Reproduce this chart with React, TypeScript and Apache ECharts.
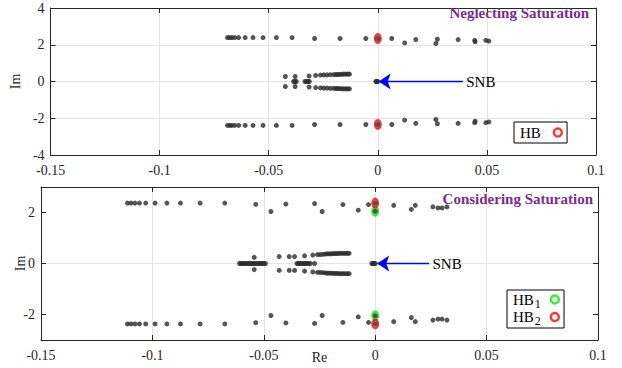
import React, { useEffect, useRef } from "react";
import * as echarts from "echarts";

// ---------- Neglecting saturation (top panel) ----------
const negUpRe = [-0.0689, -0.0679, -0.0669, -0.0656, -0.0638, -0.0608, -0.0572, -0.0526, -0.0465, -0.0393, -0.029, -0.0173, -0.0055, 0.0, 0.0064, 0.0123, 0.0174, 0.0266, 0.0273, 0.0368, 0.0444, 0.0446, 0.0495, 0.0509];
const negUpIm = [2.39, 2.39, 2.39, 2.39, 2.39, 2.39, 2.39, 2.39, 2.39, 2.39, 2.34, 2.34, 2.34, 2.34, 2.34, 2.1, 2.28, 2.07, 2.3, 2.28, 2.24, 2.16, 2.24, 2.2];
const negLoRe = [-0.0689, -0.0679, -0.0669, -0.0656, -0.0638, -0.0608, -0.0572, -0.0526, -0.0465, -0.0393, -0.029, -0.0173, -0.0055, 0.0, 0.0064, 0.0123, 0.0174, 0.0266, 0.0273, 0.0368, 0.0444, 0.0446, 0.0495, 0.0509];
const negLoIm = [-2.39, -2.39, -2.39, -2.39, -2.39, -2.39, -2.39, -2.39, -2.39, -2.39, -2.34, -2.34, -2.34, -2.34, -2.34, -2.1, -2.28, -2.07, -2.3, -2.28, -2.24, -2.16, -2.24, -2.2];
const negRealRe = [-0.0386, -0.038, -0.0374, -0.0334, -0.0327, -0.032, -0.0314, -0.0009, -0.0005, -0.0001];
const negRealIm = [0, 0, 0, 0, 0, 0, 0, 0, 0, 0];
const negCxRe = [-0.0424, -0.0379, -0.0315, -0.0285, -0.0263, -0.0248, -0.0233, -0.0218, -0.0203, -0.0192, -0.0183, -0.0174, -0.0165, -0.0156, -0.0147, -0.0138, -0.013];
const negCxUpIm = [0.27, 0.27, 0.3, 0.33, 0.35, 0.36, 0.36, 0.37, 0.37, 0.38, 0.38, 0.39, 0.39, 0.4, 0.4, 0.4, 0.4];
const negCxLoIm = [-0.27, -0.27, -0.3, -0.33, -0.35, -0.36, -0.36, -0.37, -0.37, -0.38, -0.38, -0.39, -0.39, -0.4, -0.4, -0.4, -0.4];
const hbRe = [0.0, 0.0];
const hbIm = [2.34, -2.34];

// ---------- Considering saturation (bottom panel) ----------
const satUpRe = [-0.1112, -0.1096, -0.1078, -0.1058, -0.103, -0.0988, -0.0935, -0.0874, -0.0786, -0.0675, -0.0536, -0.0468, -0.0401, -0.0272, -0.0238, -0.0145, -0.0076, -0.003, 0.0, 0.0, 0.0083, 0.0162, 0.018, 0.0259, 0.0282, 0.03, 0.0322];
const satUpIm = [2.37, 2.37, 2.37, 2.37, 2.37, 2.37, 2.37, 2.37, 2.37, 2.37, 2.32, 2.04, 2.33, 2.35, 2.04, 2.31, 2.09, 2.31, 2.37, 2.05, 2.28, 2.12, 2.28, 2.22, 2.18, 2.18, 2.22];
const satLoRe = [-0.1112, -0.1096, -0.1078, -0.1058, -0.103, -0.0988, -0.0935, -0.0874, -0.0786, -0.0675, -0.0536, -0.0468, -0.0401, -0.0272, -0.0238, -0.0145, -0.0076, -0.003, 0.0, 0.0, 0.0083, 0.0162, 0.018, 0.0259, 0.0282, 0.03, 0.0322];
const satLoIm = [-2.37, -2.37, -2.37, -2.37, -2.37, -2.37, -2.37, -2.37, -2.37, -2.37, -2.32, -2.04, -2.33, -2.35, -2.04, -2.31, -2.09, -2.31, -2.37, -2.05, -2.28, -2.12, -2.28, -2.22, -2.18, -2.18, -2.22];
const satRealRe = [-0.0609, -0.0602, -0.0595, -0.0588, -0.058, -0.0572, -0.0565, -0.0557, -0.055, -0.0543, -0.0536, -0.0528, -0.0521, -0.0514, -0.0507, -0.05, -0.0493, -0.0351, -0.0344, -0.0337, -0.033, -0.0322, -0.0315, -0.0308, -0.03, -0.0291, -0.0272, -0.0015, -0.001, -0.0005, 0.0];
const satRealIm = [0, 0, 0, 0, 0, 0, 0, 0, 0, 0, 0, 0, 0, 0, 0, 0, 0, 0, 0, 0, 0, 0, 0, 0, 0, 0, 0, 0, 0, 0, 0];
const satCxRe = [-0.0543, -0.0431, -0.0386, -0.0362, -0.0317, -0.028, -0.0259, -0.0247, -0.0235, -0.0224, -0.0215, -0.0206, -0.0197, -0.0188, -0.0179, -0.017, -0.0161, -0.0152, -0.0143, -0.0134, -0.0125, -0.0117];
const satCxUpIm = [0.24, 0.27, 0.27, 0.27, 0.3, 0.33, 0.35, 0.35, 0.36, 0.37, 0.38, 0.38, 0.38, 0.39, 0.39, 0.39, 0.4, 0.4, 0.4, 0.4, 0.4, 0.4];
const satCxLoIm = [-0.24, -0.27, -0.27, -0.27, -0.3, -0.33, -0.35, -0.35, -0.36, -0.37, -0.38, -0.38, -0.38, -0.39, -0.39, -0.39, -0.4, -0.4, -0.4, -0.4, -0.4, -0.4];
const hb1Re = [0.0, 0.0];
const hb1Im = [2.05, -2.05];
const hb2Re = [0.0, 0.0];
const hb2Im = [2.37, -2.37];

// ---------- annotations ----------
const snbTop = { from: 0.039, to: 0.0004, label: 0.0403 };
const snbBot = { from: 0.0242, to: 0.0009, label: 0.0255 };

const xTicks = { min: -0.15, max: 0.1, interval: 0.05 };
const yTopTicks = { min: -4, max: 4, interval: 2 };
const yBotTicks = { min: -3, max: 3, interval: 1, labels: [-2, 0, 2] };

const FONT = "'Liberation Serif', 'Times New Roman', serif";
const AX = "#262626";
const GRIDC = "#e4e4e4";
const DOT = "#2a2a2a";

const zip = (re: number[], im: number[]) => re.map((r, i) => [r, im[i]]);

function App() {
  const ref = useRef<HTMLDivElement>(null);
  useEffect(() => {
    if (!ref.current) return;
    const chart = echarts.init(ref.current, null, { renderer: "svg" });

    const labelStyle = { fontFamily: FONT, fontSize: 14, color: AX };
    const axLine = { show: true, onZero: false, lineStyle: { color: AX, width: 1 } };
    const mainX = (gi: number, extra: any = {}) => ({
      gridIndex: gi,
      type: "value",
      ...xTicks,
      position: "bottom",
      axisLine: axLine,
      axisTick: { show: true, inside: true, length: 5, lineStyle: { color: AX } },
      axisLabel: { margin: 8, ...labelStyle },
      splitLine: { show: true, showMinLine: false, showMaxLine: false, lineStyle: { color: GRIDC, width: 1 } },
      ...extra,
    });
    const topX = (gi: number) => ({
      gridIndex: gi,
      type: "value",
      ...xTicks,
      position: "top",
      axisLine: axLine,
      axisTick: { show: true, inside: true, length: 5, lineStyle: { color: AX } },
      axisLabel: { show: false },
      splitLine: { show: false },
    });

    const dots = (xi: number, yi: number, data: number[][]) => ({
      type: "scatter",
      xAxisIndex: xi,
      yAxisIndex: yi,
      data,
      symbol: "circle",
      symbolSize: 5,
      itemStyle: { color: DOT },
      z: 4,
      silent: true,
    });
    const ring = (name: string, xi: number, yi: number, data: number[][], color: string) => ({
      name,
      type: "scatter",
      xAxisIndex: xi,
      yAxisIndex: yi,
      data,
      symbol: "circle",
      symbolSize: [6, 8],
      itemStyle: { color: "rgba(0,0,0,0)", borderColor: color, borderWidth: 2.4 },
      z: 3,
      silent: true,
    });
    const snb = (xi: number, yi: number, s: { from: number; to: number; label: number }) => ({
      type: "line",
      xAxisIndex: xi,
      yAxisIndex: yi,
      data: [[s.label, 0]],
      showSymbol: true,
      symbol: "circle",
      symbolSize: 1,
      lineStyle: { width: 0 },
      itemStyle: { color: "rgba(0,0,0,0)" },
      label: { show: true, formatter: "SNB", position: "right", distance: 0, fontFamily: FONT, fontSize: 15, color: "#000" },
      z: 10,
      silent: true,
      markLine: {
        silent: true,
        symbol: ["none", "arrow"],
        symbolSize: 12,
        lineStyle: { color: "#0000ff", width: 1.3, type: "solid" },
        itemStyle: { color: "#0000ff" },
        label: { show: false },
        emphasis: { disabled: true },
        data: [[{ coord: [s.from, 0] }, { coord: [s.to, 0] }]],
      },
    });

    const ringIcon = (c: string) => ({ color: "rgba(0,0,0,0)", borderColor: c, borderWidth: 2.4 });

    const option: any = {
      animation: false,
      backgroundColor: "#ffffff",
      title: [
        { text: "Neglecting Saturation", right: 33, top: 5, padding: 0, textStyle: { fontFamily: FONT, fontWeight: "bold", fontSize: 15, color: "#7b2d8e" } },
        { text: "Considering Saturation", right: 29, top: 191, padding: 0, textStyle: { fontFamily: FONT, fontWeight: "bold", fontSize: 15, color: "#7b2d8e" } },
      ],
      legend: [
        {
          data: [{ name: "HB", icon: "circle", itemStyle: ringIcon("#ff0000") }],
          left: 514,
          top: 122,
          orient: "vertical",
          align: "right",
          padding: [3, 4, 3, 6],
          itemWidth: 24,
          itemHeight: 8,
          itemGap: 0,
          borderColor: "#000",
          borderWidth: 1,
          borderRadius: 0,
          backgroundColor: "#fff",
          selectedMode: false,
          textStyle: { fontFamily: FONT, fontSize: 15, color: "#000" },
        },
        {
          data: [
            { name: "HB1", icon: "circle", itemStyle: ringIcon("#00ee00") },
            { name: "HB2", icon: "circle", itemStyle: ringIcon("#ff0000") },
          ],
          left: 507,
          top: 290,
          orient: "vertical",
          align: "right",
          padding: [2, 4, 1, 6],
          itemWidth: 18,
          itemHeight: 8,
          itemGap: 0,
          borderColor: "#000",
          borderWidth: 1,
          borderRadius: 0,
          backgroundColor: "#fff",
          selectedMode: false,
          formatter: (n: string) => (n === "HB1" ? "{m|HB}{s|1}" : "{m|HB}{s|2}"),
          textStyle: {
            fontFamily: FONT,
            fontSize: 15,
            color: "#000",
            rich: {
              m: { fontFamily: FONT, fontSize: 15, lineHeight: 20, verticalAlign: "middle", color: "#000" },
              s: { fontFamily: FONT, fontSize: 12, lineHeight: 0, verticalAlign: "bottom", padding: [0, 0, 0, 1], color: "#000" },
            },
          },
        },
      ],
      grid: [
        { left: 39, right: 26, top: 8, height: 147, containLabel: false },
        { left: 41, right: 24, top: 187, height: 153, containLabel: false },
      ],
      xAxis: [
        mainX(0),
        topX(0),
        mainX(1, { name: "Re", nameLocation: "middle", nameGap: 10, nameMoveOverlap: false, nameTextStyle: { ...labelStyle } }),
        topX(1),
      ],
      yAxis: [
        {
          gridIndex: 0,
          type: "value",
          ...yTopTicks,
          position: "left",
          name: "Im",
          nameLocation: "middle",
          nameGap: 15,
          nameTextStyle: { ...labelStyle },
          axisLine: axLine,
          axisTick: { show: true, inside: true, length: 5, lineStyle: { color: AX } },
          axisLabel: { margin: 6, ...labelStyle },
          splitLine: { show: true, showMinLine: false, showMaxLine: false, lineStyle: { color: GRIDC, width: 1 } },
        },
        {
          gridIndex: 0,
          type: "value",
          ...yTopTicks,
          position: "right",
          axisLine: axLine,
          axisTick: { show: true, inside: true, length: 5, lineStyle: { color: AX } },
          axisLabel: { show: false },
          splitLine: { show: false },
        },
        {
          gridIndex: 1,
          type: "value",
          min: yBotTicks.min,
          max: yBotTicks.max,
          interval: yBotTicks.interval,
          position: "left",
          name: "Im",
          nameLocation: "middle",
          nameGap: 14,
          nameMoveOverlap: false,
          nameTextStyle: { ...labelStyle },
          axisLine: axLine,
          axisTick: { show: true, inside: true, length: 5, customValues: yBotTicks.labels, lineStyle: { color: AX } },
          axisLabel: { margin: 6, customValues: yBotTicks.labels, ...labelStyle },
          splitLine: { show: true, showMinLine: false, showMaxLine: false, lineStyle: { color: GRIDC, width: 1 } },
        },
        {
          gridIndex: 1,
          type: "value",
          min: yBotTicks.min,
          max: yBotTicks.max,
          interval: yBotTicks.interval,
          position: "right",
          axisLine: axLine,
          axisTick: { show: true, inside: true, length: 5, customValues: yBotTicks.labels, lineStyle: { color: AX } },
          axisLabel: { show: false },
          splitLine: { show: false },
        },
      ],
      series: [
        ring("HB", 0, 0, zip(hbRe, hbIm), "#ff0000"),
        dots(0, 0, zip(negUpRe, negUpIm)),
        dots(0, 0, zip(negLoRe, negLoIm)),
        dots(0, 0, zip(negRealRe, negRealIm)),
        dots(0, 0, zip(negCxRe, negCxUpIm)),
        dots(0, 0, zip(negCxRe, negCxLoIm)),
        snb(0, 0, snbTop),

        ring("HB1", 2, 2, zip(hb1Re, hb1Im), "#00ee00"),
        ring("HB2", 2, 2, zip(hb2Re, hb2Im), "#ff0000"),
        dots(2, 2, zip(satUpRe, satUpIm)),
        dots(2, 2, zip(satLoRe, satLoIm)),
        dots(2, 2, zip(satRealRe, satRealIm)),
        dots(2, 2, zip(satCxRe, satCxUpIm)),
        dots(2, 2, zip(satCxRe, satCxLoIm)),
        snb(2, 2, snbBot),
      ],
    };

    chart.setOption(option);
    return () => chart.dispose();
  }, []);

  return <div ref={ref} style={{ position: "absolute", left: 0, top: 0, width: 622, height: 368 }} />;
}

export default App;
